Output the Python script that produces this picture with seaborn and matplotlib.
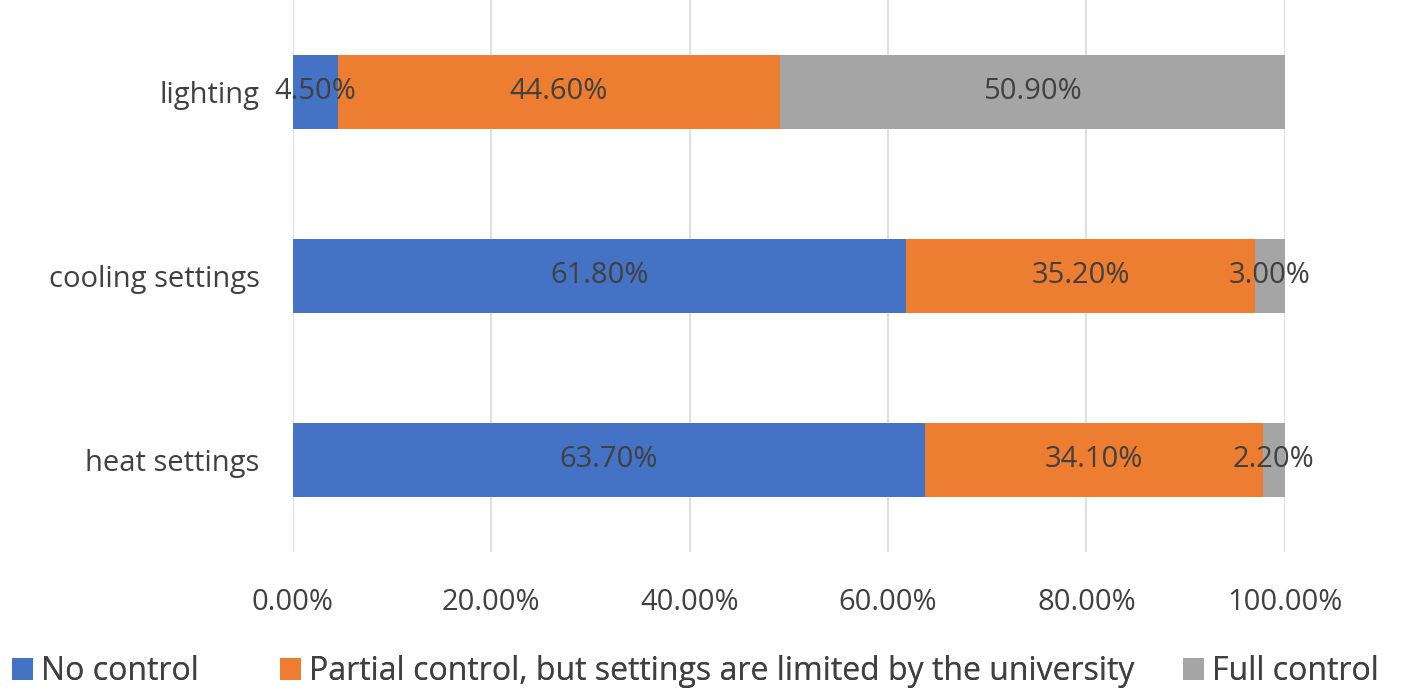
import matplotlib
matplotlib.use("Agg")
import matplotlib.pyplot as plt
import numpy as np
import pandas as pd
import seaborn as sns
from matplotlib.patches import Patch

categories = ["lighting", "cooling settings", "heat settings"]
series_names = [
    "No control",
    "Partial control, but settings are limited by the university",
    "Full control",
]
no_control = [4.5, 61.8, 63.7]
partial_control = [44.6, 35.2, 34.1]
full_control = [50.9, 3.0, 2.2]
colors = ["#4472C4", "#ED7D31", "#A5A5A5"]
x_ticks = [0, 20, 40, 60, 80, 100]
legend_x = [0.0085, 0.198, 0.836]

sns.set_theme(style="white")
plt.rcParams["font.family"] = ["Open Sans", "DejaVu Sans"]
TEXT = "#404040"
FS = 21

df = pd.DataFrame({
    "category": categories,
    "no": no_control,
    "partial": partial_control,
    "full": full_control,
})
df["cum1"] = df["no"]
df["cum2"] = df["no"] + df["partial"]
df["cum3"] = df["cum2"] + df["full"]

fig = plt.figure(figsize=(14.15, 6.94), dpi=100)
ax = fig.add_axes([0.207, 0.205, 0.701, 0.795])

# stacked bars drawn as overlapping cumulative totals
for col, color in zip(["cum3", "cum2", "cum1"], colors[::-1]):
    sns.barplot(data=df, x=col, y="category", order=categories, color=color,
                width=0.4, saturation=1, ax=ax, edgecolor="none")

for i, cat in enumerate(categories):
    starts = [0, no_control[i], no_control[i] + partial_control[i]]
    vals = [no_control[i], partial_control[i], full_control[i]]
    for s, v in zip(starts, vals):
        ax.text(s + v / 2, i, f"{v:.2f}%", ha="center", va="center",
                fontsize=FS, color=TEXT)

ax.set_xlim(0, 100)
ax.set_ylim(2.5, -0.5)
ax.set_xticks(x_ticks)
ax.set_xticklabels([f"{t:.2f}%" for t in x_ticks])
ax.set_xlabel("")
ax.set_ylabel("")
ax.xaxis.grid(True, color="#D9D9D9", linewidth=1.2)
ax.set_axisbelow(True)
for sp in ax.spines.values():
    sp.set_visible(False)
ax.tick_params(axis="x", length=0, pad=26, labelsize=FS, labelcolor=TEXT)
ax.tick_params(axis="y", length=0, pad=24, labelsize=FS, labelcolor=TEXT)

# one legend per entry so the Excel-style uneven spacing can be kept
for name, color, lx in zip(series_names, colors, legend_x):
    leg = fig.legend([Patch(facecolor=color, edgecolor="none")], [name],
                     loc="center left", bbox_to_anchor=(lx, 0.032),
                     frameon=False, fontsize=23, labelcolor=TEXT,
                     borderpad=0, borderaxespad=0,
                     handlelength=0.65, handleheight=0.65, handletextpad=0.25)
    fig.add_artist(leg)

fig.savefig("out.png", dpi=100)
